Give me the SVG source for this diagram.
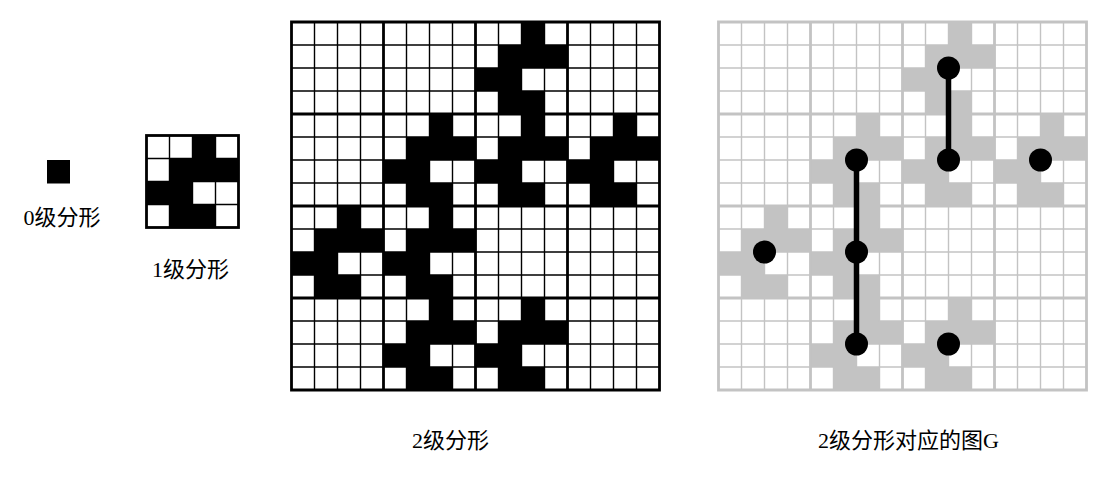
<svg xmlns="http://www.w3.org/2000/svg" xmlns:xlink="http://www.w3.org/1999/xlink" width="1118" height="490" viewBox="0 0 1118 490">
<style>
.thin{fill:none;stroke-width:1.4}
.thick{fill:none;stroke-width:2.8}
.lbl{font-family:"Liberation Serif","Noto Sans CJK SC",serif;font-size:22px;fill:#000;text-anchor:middle}
.edge{stroke:#000;stroke-width:5.5;stroke-linecap:butt;fill:none}
.node{fill:#000}
</style>
<defs>
<g id="P">
<rect x="46" y="0" width="23" height="23"/>
<rect x="23" y="23" width="69" height="23"/>
<rect x="0" y="46" width="46" height="23"/>
<rect x="23" y="69" width="46" height="23"/>
</g>
<g id="F2">
<use xlink:href="#P" transform="translate(184,0)"/>
<use xlink:href="#P" transform="translate(92,92)"/>
<use xlink:href="#P" transform="translate(184,92)"/>
<use xlink:href="#P" transform="translate(276,92)"/>
<use xlink:href="#P" transform="translate(0,184)"/>
<use xlink:href="#P" transform="translate(92,184)"/>
<use xlink:href="#P" transform="translate(92,276)"/>
<use xlink:href="#P" transform="translate(184,276)"/>
</g>
<g id="grid16">
<path class="thin" d="M23 0V368M46 0V368M69 0V368M115 0V368M138 0V368M161 0V368M207 0V368M230 0V368M253 0V368M299 0V368M322 0V368M345 0V368M0 23H368M0 46H368M0 69H368M0 115H368M0 138H368M0 161H368M0 207H368M0 230H368M0 253H368M0 299H368M0 322H368M0 345H368"/>
<path class="thick" d="M0 0H368V368H0ZM92 0V368M184 0V368M276 0V368M0 92H368M0 184H368M0 276H368"/>
</g>
</defs>
<rect width="1118" height="490" fill="#fff"/>
<g id="level0">
<rect x="47" y="160" width="23" height="23.5" fill="#000"/>
<text class="lbl" x="62" y="225">0级分形</text>
</g>
<g id="level1">
<g transform="translate(146.5,135.5)">
<use xlink:href="#P" fill="#000"/>
<path class="thin" stroke="#000" d="M23 0V92M46 0V92M69 0V92M0 23H92M0 46H92M0 69H92"/>
<rect class="thick" stroke="#000" x="0" y="0" width="92" height="92"/>
</g>
<text class="lbl" x="190.5" y="277">1级分形</text>
</g>
<g id="level2">
<g transform="translate(291.5,22)">
<use xlink:href="#F2" fill="#000"/>
<use xlink:href="#grid16" stroke="#000"/>
</g>
<text class="lbl" x="450.5" y="448">2级分形</text>
</g>
<g id="graphG">
<g transform="translate(718.5,22)">
<use xlink:href="#F2" fill="#c3c3c3"/>
<use xlink:href="#grid16" stroke="#c3c3c3"/>
</g>
<text class="lbl" x="908.5" y="448">2级分形对应的图G</text>
</g>
<g id="edges">
<path class="edge" d="M948.5 68V160"/>
<path class="edge" d="M856.5 160V344"/>
</g>
<g id="n1"><circle class="node" cx="948.5" cy="68" r="11.5"/></g>
<g id="n2"><circle class="node" cx="856.5" cy="160" r="11.5"/></g>
<g id="n3"><circle class="node" cx="948.5" cy="160" r="11.5"/></g>
<g id="n4"><circle class="node" cx="1040.5" cy="160" r="11.5"/></g>
<g id="n5"><circle class="node" cx="764.5" cy="252" r="11.5"/></g>
<g id="n6"><circle class="node" cx="856.5" cy="252" r="11.5"/></g>
<g id="n7"><circle class="node" cx="856.5" cy="344" r="11.5"/></g>
<g id="n8"><circle class="node" cx="948.5" cy="344" r="11.5"/></g>
</svg>
